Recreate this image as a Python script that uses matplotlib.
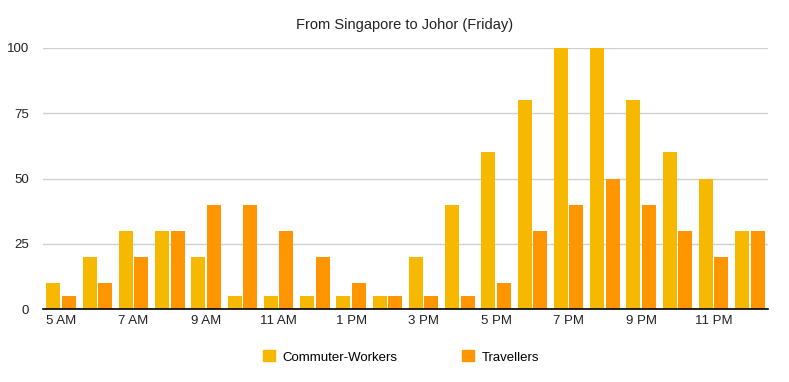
import numpy as np
import matplotlib
matplotlib.use("Agg")
import matplotlib.pyplot as plt
from matplotlib.patches import Patch

plt.rcParams["font.family"] = ["Liberation Sans", "DejaVu Sans"]

hours = ["5 AM", "6 AM", "7 AM", "8 AM", "9 AM", "10 AM", "11 AM", "12 PM",
         "1 PM", "2 PM", "3 PM", "4 PM", "5 PM", "6 PM", "7 PM", "8 PM",
         "9 PM", "10 PM", "11 PM", "12 AM"]
commuters = [10, 20, 30, 30, 20, 5, 5, 5, 5, 5, 20, 40, 60, 80, 100, 100, 80, 60, 50, 30]
travellers = [5, 10, 20, 30, 40, 40, 30, 20, 10, 5, 5, 5, 10, 30, 40, 50, 40, 30, 20, 30]

C_COMM, C_TRAV = "#F6B900", "#FF9500"

fig = plt.figure(figsize=(7.89, 3.82), dpi=100)
ax = fig.add_axes([43/789, 1 - 309/382, 725/789, 261/382])

x = np.arange(len(hours))
w = 0.39
ax.bar(x - 0.215, commuters, w, color=C_COMM, zorder=3)
ax.bar(x + 0.215, travellers, w, color=C_TRAV, zorder=3)

ax.set_xlim(-0.5, len(hours) - 0.5)
ax.set_ylim(0, 100)
ax.set_yticks([0, 25, 50, 75, 100])
ax.set_xticks(x[::2])
ax.set_xticklabels(hours[::2])
ax.grid(axis="y", color="#d0d0d0", lw=1, zorder=0)
for s in ["top", "right", "left"]:
    ax.spines[s].set_visible(False)
ax.spines["bottom"].set_color("black")
ax.spines["bottom"].set_linewidth(1.2)
ax.spines["bottom"].set_zorder(4)
ax.tick_params(axis="both", length=0, labelsize=9.5, colors="#222")
ax.tick_params(axis="y", pad=10)
ax.tick_params(axis="x", pad=4)

fig.text(405/789, 1 - 25/382, "From Singapore to Johor (Friday)", ha="center",
         va="center", fontsize=10.5, color="#222")

handles = [Patch(color=C_COMM, label="Commuter-Workers"),
           Patch(color=C_TRAV, label="Travellers")]
fig.legend(handles=handles, loc="center", bbox_to_anchor=(401/789, 1 - 357/382),
           ncol=2, frameon=False, fontsize=9.5, handlelength=0.9,
           handleheight=0.9, handletextpad=0.6, columnspacing=4.9)

fig.savefig("out.png", dpi=100)
